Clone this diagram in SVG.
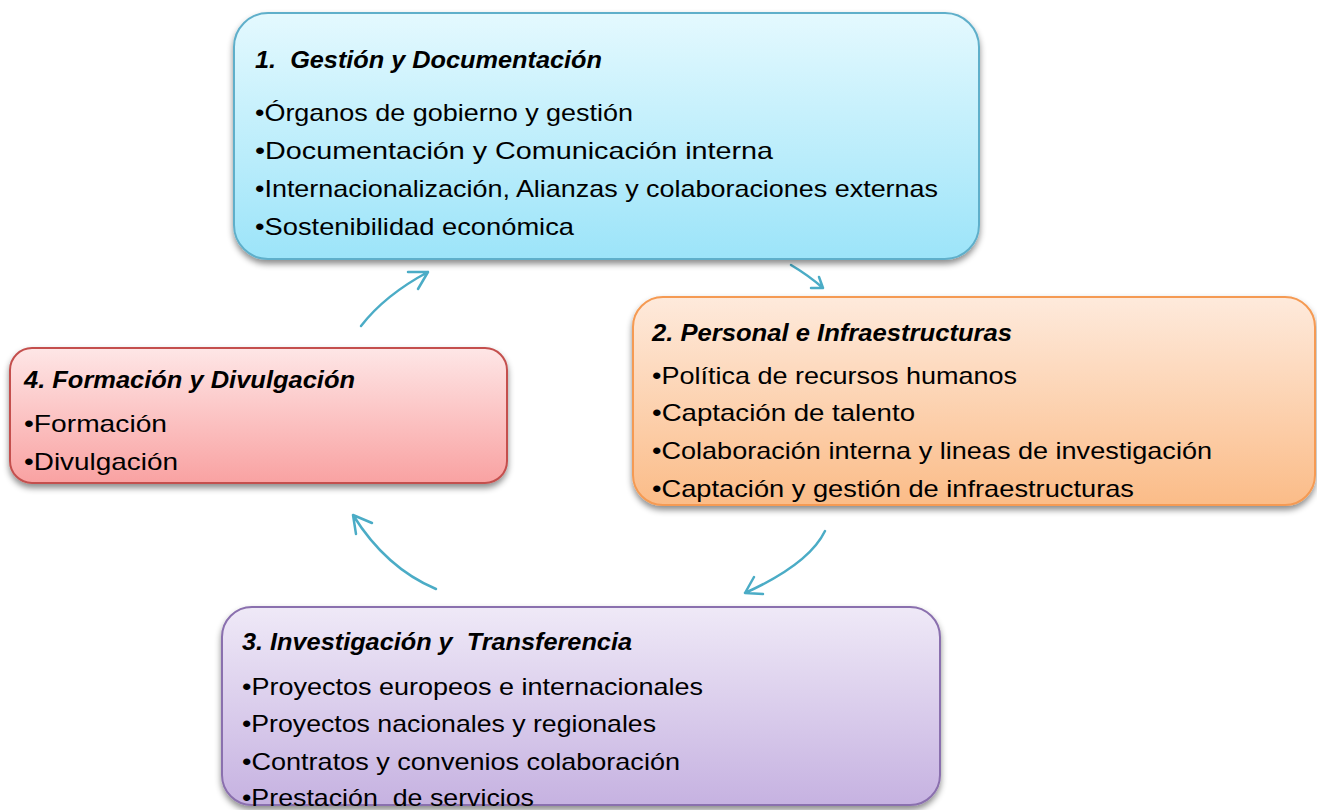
<svg xmlns="http://www.w3.org/2000/svg" width="1317" height="810" viewBox="0 0 1317 810">
<style>
text{font-family:"Liberation Sans",Arial,sans-serif;font-size:24px;fill:#000;white-space:pre}
.t{font-weight:bold;font-style:italic}
.box{stroke-width:2;filter:url(#sh)}
.arr{fill:none;stroke:#4bacc6;stroke-width:2.5;stroke-linecap:round;stroke-linejoin:round}
</style>
<defs>
<filter id="sh" x="-5%" y="-10%" width="110%" height="125%">
<feDropShadow dx="0" dy="4" stdDeviation="3" flood-color="#000" flood-opacity="0.45"/>
</filter>
<linearGradient id="g1" x1="0" y1="0" x2="0" y2="1"><stop offset="0" stop-color="#e4f9fe"/><stop offset="1" stop-color="#9ce4f9"/></linearGradient>
<linearGradient id="g2" x1="0" y1="0" x2="0" y2="1"><stop offset="0" stop-color="#feeadc"/><stop offset="1" stop-color="#fbbc88"/></linearGradient>
<linearGradient id="g3" x1="0" y1="0" x2="0" y2="1"><stop offset="0" stop-color="#efe9f7"/><stop offset="1" stop-color="#c6b2e1"/></linearGradient>
<linearGradient id="g4" x1="0" y1="0" x2="0" y2="1"><stop offset="0" stop-color="#fee6e6"/><stop offset="1" stop-color="#f9a2a2"/></linearGradient>
</defs>
<rect width="1317" height="810" fill="#fff"/>

<g id="connectors">
<path class="arr" d="M361,326 Q385,295 428,272 M408,272 L428,272 L418,289"/>
<path class="arr" d="M791,265 Q808,275 823,288 M819,277 L823,288 L811,288"/>
<path class="arr" d="M825,531 Q809,564 745,593 M754,577 L745,593 L763,594"/>
<path class="arr" d="M436,589 Q386,568 353,515 M372,523 L353,515 L356,534"/>
</g>

<g id="node1">
<rect class="box" x="234" y="13" width="745" height="246" rx="34" fill="url(#g1)" stroke="#5fafca"/>
<text class="t" x="255" y="68" textLength="347" lengthAdjust="spacingAndGlyphs" xml:space="preserve">1.  Gestión y Documentación</text>
<text x="255" y="121" textLength="378" lengthAdjust="spacingAndGlyphs">•Órganos de gobierno y gestión</text>
<text x="255" y="159" textLength="518" lengthAdjust="spacingAndGlyphs">•Documentación y Comunicación interna</text>
<text x="255" y="197" textLength="683" lengthAdjust="spacingAndGlyphs">•Internacionalización, Alianzas y colaboraciones externas</text>
<text x="255" y="235" textLength="319" lengthAdjust="spacingAndGlyphs">•Sostenibilidad económica</text>
</g>

<g id="node2">
<rect class="box" x="633" y="297" width="682" height="208" rx="30" fill="url(#g2)" stroke="#f59a52"/>
<text class="t" x="652" y="341" textLength="360" lengthAdjust="spacingAndGlyphs">2. Personal e Infraestructuras</text>
<text x="652" y="384" textLength="365" lengthAdjust="spacingAndGlyphs">•Política de recursos humanos</text>
<text x="652" y="421" textLength="263" lengthAdjust="spacingAndGlyphs">•Captación de talento</text>
<text x="652" y="459" textLength="560" lengthAdjust="spacingAndGlyphs">•Colaboración interna y lineas de investigación</text>
<text x="652" y="497" textLength="482" lengthAdjust="spacingAndGlyphs">•Captación y gestión de infraestructuras</text>
</g>

<g id="node3">
<rect class="box" x="222" y="607" width="718" height="198" rx="30" fill="url(#g3)" stroke="#8a6fae"/>
<text class="t" x="242" y="650" textLength="390" lengthAdjust="spacingAndGlyphs" xml:space="preserve">3. Investigación y  Transferencia</text>
<text x="242" y="695" textLength="461" lengthAdjust="spacingAndGlyphs">•Proyectos europeos e internacionales</text>
<text x="242" y="732" textLength="414" lengthAdjust="spacingAndGlyphs">•Proyectos nacionales y regionales</text>
<text x="242" y="770" textLength="438" lengthAdjust="spacingAndGlyphs">•Contratos y convenios colaboración</text>
<text x="242" y="806" textLength="292" lengthAdjust="spacingAndGlyphs" xml:space="preserve">•Prestación  de servicios</text>
</g>

<g id="node4">
<rect class="box" x="10" y="348" width="497" height="135" rx="22" fill="url(#g4)" stroke="#c4504e"/>
<text class="t" x="24" y="388" textLength="331" lengthAdjust="spacingAndGlyphs">4. Formación y Divulgación</text>
<text x="24" y="432" textLength="143" lengthAdjust="spacingAndGlyphs">•Formación</text>
<text x="24" y="470" textLength="154" lengthAdjust="spacingAndGlyphs">•Divulgación</text>
</g>
</svg>
